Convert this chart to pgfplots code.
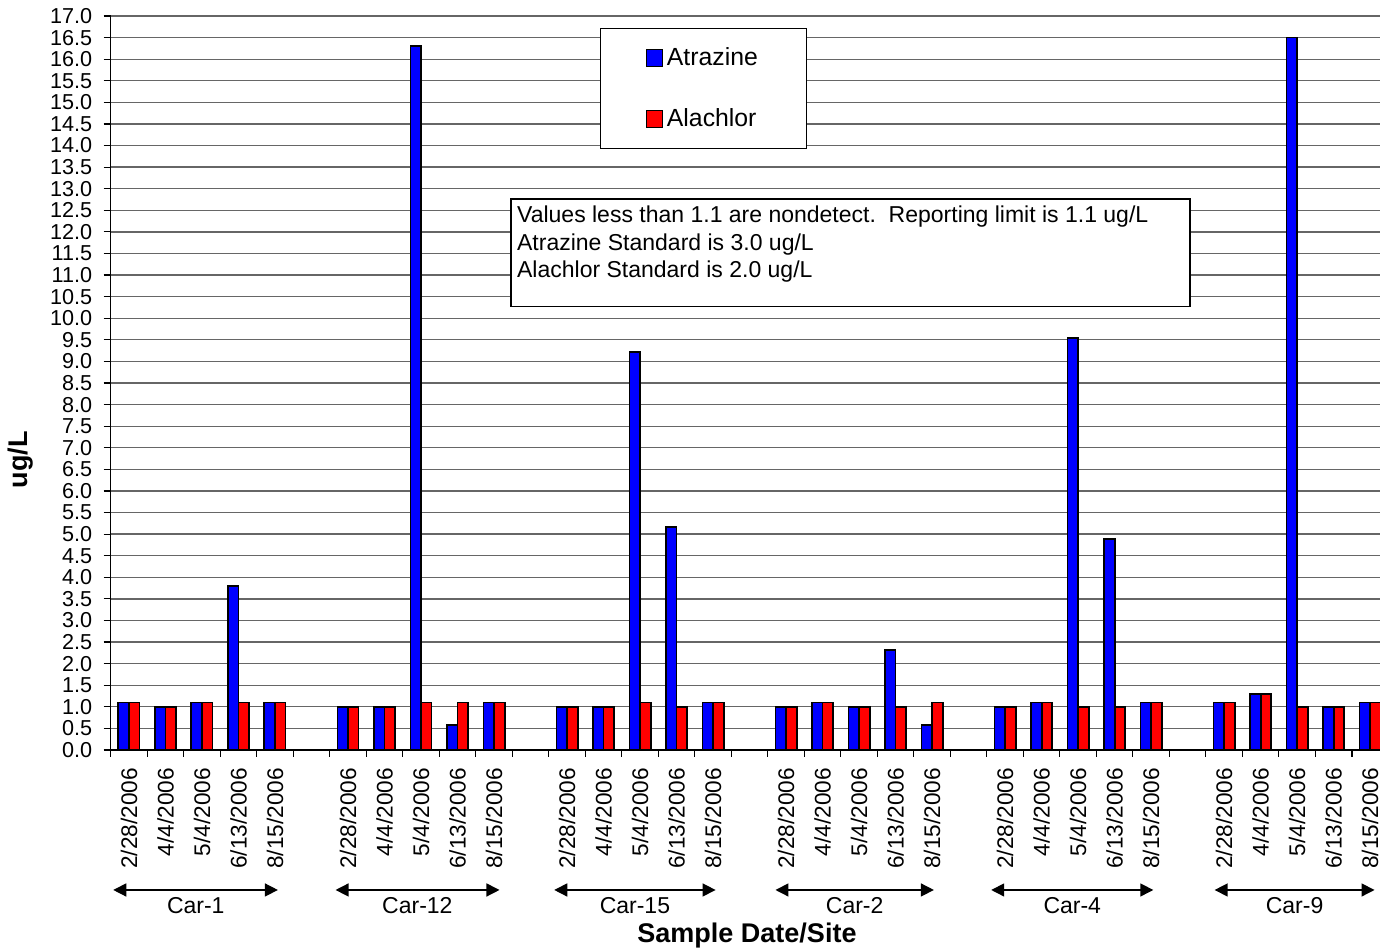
\documentclass[border=0pt]{standalone}
\usepackage{pgfplots}
\pgfplotsset{compat=1.18}
\usepackage{pgfplotstable}
\usepackage{fontspec}
\setmainfont{Liberation Sans}
\usetikzlibrary{arrows.meta}

\pgfplotstableread{
x atr ala
0 1.1 1.1
1 1.0 1.0
2 1.1 1.1
3 3.8 1.1
4 1.1 1.1
6 1.0 1.0
7 1.0 1.0
8 16.3 1.1
9 0.57 1.1
10 1.1 1.1
12 1.0 1.0
13 1.0 1.0
14 9.22 1.1
15 5.17 1.0
16 1.1 1.1
18 1.0 1.0
19 1.1 1.1
20 1.0 1.0
21 2.32 1.0
22 0.58 1.1
24 1.0 1.0
25 1.1 1.1
26 9.54 1.0
27 4.89 1.0
28 1.1 1.1
30 1.1 1.1
31 1.3 1.3
32 16.5 1.0
33 1.0 1.0
34 1.1 1.1
}\data

\newcommand{\reg}{\fontsize{10.8}{13}\selectfont}
\newcommand{\dat}{\fontsize{11.3}{13}\selectfont}
\newcommand{\car}{\fontsize{11.5}{13}\selectfont}
\newcommand{\note}{\fontsize{11.5}{13}\selectfont}
\newcommand{\leg}{\fontsize{12.4}{14}\selectfont}
\newcommand{\bigb}{\fontsize{13.5}{16}\selectfont\bfseries}

\begin{document}
\begin{tikzpicture}
\begin{axis}[
  name=ax, at={(55.35pt,101pt)}, anchor=south west,
  scale only axis, width=634.65pt, height=367pt,
  xmin=-0.5, xmax=34.27, ymin=0, ymax=17,
  clip=false,
  axis x line*=bottom, axis y line*=left,
  axis line style={-, black, line width=0.7pt},
  tick align=outside, major tick length=3.5pt,
  tick style={black, line width=0.6pt},
  ymajorgrids, major grid style={black!60, line width=0.65pt},
  ytick distance=0.5,
  yticklabel style={/pgf/number format/.cd, fixed, fixed zerofill, precision=1, assume math mode=true, /tikz/.cd, font=\reg},
  yticklabel shift=2.25pt,
  xtick={-0.5,0.5,...,33.5},
  xticklabels={},
  extra x ticks={0,1,2,3,4,6,7,8,9,10,12,13,14,15,16,18,19,20,21,22,24,25,26,27,28,30,31,32,33,34},
  extra x tick labels={2/28/2006,4/4/2006,5/4/2006,6/13/2006,8/15/2006,
    2/28/2006,4/4/2006,5/4/2006,6/13/2006,8/15/2006,
    2/28/2006,4/4/2006,5/4/2006,6/13/2006,8/15/2006,
    2/28/2006,4/4/2006,5/4/2006,6/13/2006,8/15/2006,
    2/28/2006,4/4/2006,5/4/2006,6/13/2006,8/15/2006,
    2/28/2006,4/4/2006,5/4/2006,6/13/2006,8/15/2006},
  extra x tick style={major tick length=0pt, xticklabel shift=5.6pt,
    tick label style={rotate=90, anchor=east, font=\dat}},
  ybar, bar width=0.29,
  legend style={at={(0.3855,0.9837)}, anchor=north west, draw=black, line width=0.5pt,
    fill=white, font=\leg, inner xsep=22.5pt, inner ysep=7.5pt, row sep=16pt},
  legend cell align=left,
]
\addplot[fill=blue, draw=black, line width=0.9pt, bar shift=-0.145,
  legend image code/.code={\draw[fill=blue, draw=black, line width=0.7pt] (0pt,-4.2pt) rectangle (8pt,4.2pt);}]
  table[x=x, y=atr] {\data};
\addplot[fill=red, draw=black, line width=0.9pt, bar shift=0.145,
  legend image code/.code={\draw[fill=red, draw=black, line width=0.7pt] (0pt,-4.2pt) rectangle (8pt,4.2pt);}]
  table[x=x, y=ala] {\data};
\legend{Atrazine, Alachlor}

% note box
\draw[fill=white, draw=black, line width=0.7pt] (rel axis cs:0.3154,0.7507) rectangle (rel axis cs:0.8503,0.6040);
\node[anchor=base west, inner sep=0pt, font=\note] at (rel axis cs:0.3199,0.7180) {Values less than 1.1 are nondetect.\ \ Reporting limit is 1.1 ug/L};
\node[anchor=base west, inner sep=0pt, font=\note] at (rel axis cs:0.3199,0.6808) {Atrazine Standard is 3.0 ug/L};
\node[anchor=base west, inner sep=0pt, font=\note] at (rel axis cs:0.3199,0.6436) {Alachlor Standard is 2.0 ug/L};

% group arrows
\draw[{Triangle[length=6.5pt,width=6.5pt]}-{Triangle[length=6.5pt,width=6.5pt]}, line width=0.7pt] (axis cs:-0.43,-3.242) -- (axis cs:4.08,-3.242);
\draw[{Triangle[length=6.5pt,width=6.5pt]}-{Triangle[length=6.5pt,width=6.5pt]}, line width=0.7pt] (axis cs:5.66,-3.242) -- (axis cs:10.15,-3.242);
\draw[{Triangle[length=6.5pt,width=6.5pt]}-{Triangle[length=6.5pt,width=6.5pt]}, line width=0.7pt] (axis cs:11.65,-3.242) -- (axis cs:16.07,-3.242);
\draw[{Triangle[length=6.5pt,width=6.5pt]}-{Triangle[length=6.5pt,width=6.5pt]}, line width=0.7pt] (axis cs:17.71,-3.242) -- (axis cs:22.05,-3.242);
\draw[{Triangle[length=6.5pt,width=6.5pt]}-{Triangle[length=6.5pt,width=6.5pt]}, line width=0.7pt] (axis cs:23.62,-3.242) -- (axis cs:28.06,-3.242);
\draw[{Triangle[length=6.5pt,width=6.5pt]}-{Triangle[length=6.5pt,width=6.5pt]}, line width=0.7pt] (axis cs:29.74,-3.242) -- (axis cs:34.12,-3.242);
\node[anchor=base, font=\car] at (axis cs:1.83,-3.782) {Car-1};
\node[anchor=base, font=\car] at (axis cs:7.90,-3.782) {Car-12};
\node[anchor=base, font=\car] at (axis cs:13.86,-3.782) {Car-15};
\node[anchor=base, font=\car] at (axis cs:19.88,-3.782) {Car-2};
\node[anchor=base, font=\car] at (axis cs:25.84,-3.782) {Car-4};
\node[anchor=base, font=\car] at (axis cs:31.93,-3.782) {Car-9};

% axis labels
\node[anchor=center, rotate=90, font=\bigb] at (rel axis cs:-0.0707,0.3951) {ug/L};
\node[anchor=base, font=\bigb] at (rel axis cs:0.5013,-0.2629) {Sample Date/Site};
\end{axis}
\pgfresetboundingbox
\useasboundingbox (0,0) rectangle (690pt,476pt);
\end{tikzpicture}
\end{document}
